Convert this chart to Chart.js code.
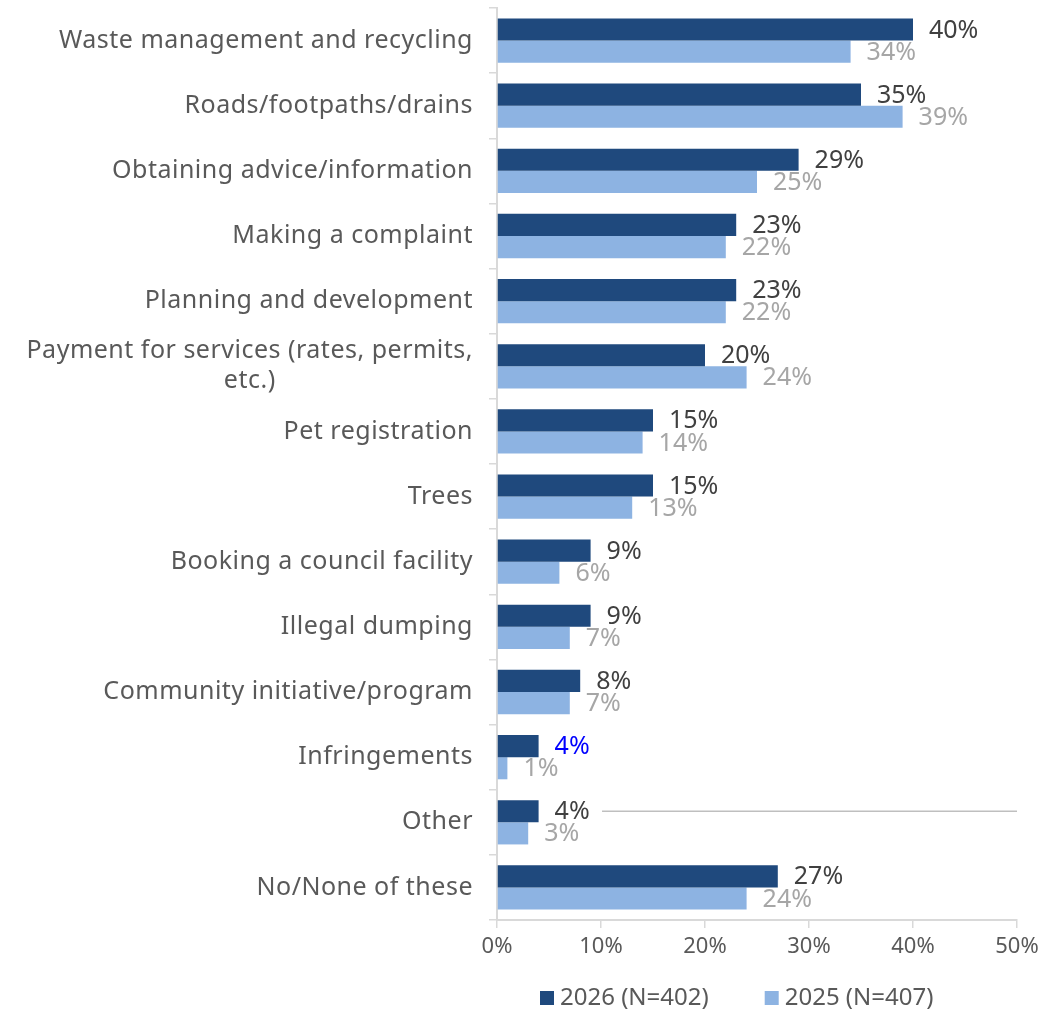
<!DOCTYPE html>
<html>
<head>
<meta charset="utf-8">
<script src="https://cdn.jsdelivr.net/npm/chart.js@4.4.1/dist/chart.umd.min.js"></script>
<style>
  html, body { margin: 0; padding: 0; background: #fff; }
  #wrap { width: 1045px; height: 1012px; }
</style>
</head>
<body>
<div id="wrap"><canvas id="barChart" width="1045" height="1012"></canvas></div>
<script>
const categories = [
    ['Waste management and recycling'],
    ['Roads/footpaths/drains'],
    ['Obtaining advice/information'],
    ['Making a complaint'],
    ['Planning and development'],
    ['Payment for services (rates, permits,', 'etc.)'],
    ['Pet registration'],
    ['Trees'],
    ['Booking a council facility'],
    ['Illegal dumping'],
    ['Community initiative/program'],
    ['Infringements'],
    ['Other'],
    ['No/None of these'],
];
const values2026 = [40, 35, 29, 23, 23, 20, 15, 15, 9, 9, 8, 4, 4, 27];
const values2025 = [34, 39, 25, 22, 22, 24, 14, 13, 6, 7, 7, 1, 3, 24];
const xTicks = [0, 10, 20, 30, 40, 50];

const FONT = '"Noto Sans", sans-serif';
const TEXT = '#595959';
const AXIS = '#d9d9d9';

// category names drawn by hand so wrapped lines can be centred under each other
const categoryLabels = {
    id: 'categoryLabels',
    afterDraw(chart) {
        const ctx = chart.ctx;
        const y = chart.scales.y;
        const right = y.right - 24;
        const lh = 30;
        ctx.save();
        ctx.font = '25px ' + FONT;
        ctx.letterSpacing = '0.5px';
        ctx.fillStyle = TEXT;
        ctx.textBaseline = 'middle';
        ctx.textAlign = 'center';
        categories.forEach((lines, i) => {
            const cy = y.getPixelForValue(i);
            const w = Math.max(...lines.map(l => ctx.measureText(l).width));
            const cx = right - w / 2;
            const y0 = cy - (lines.length - 1) * lh / 2;
            lines.forEach((l, k) => ctx.fillText(l, cx, y0 + k * lh));
        });
        ctx.restore();
    }
};

// percentage labels just past the end of each bar
const valueLabels = {
    id: 'valueLabels',
    afterDatasetsDraw(chart) {
        const ctx = chart.ctx;
        ctx.save();
        ctx.font = '25px ' + FONT;
        ctx.textAlign = 'left';
        ctx.textBaseline = 'middle';
        chart.data.datasets.forEach((ds, di) => {
            chart.getDatasetMeta(di).data.forEach((bar, i) => {
                let col = ds.labelColor;
                if (di === 0 && categories[i][0] === 'Infringements') col = '#0000ff';
                ctx.fillStyle = col;
                ctx.fillText(ds.data[i] + '%', bar.x + 16, bar.y + 1);
            });
        });
        ctx.restore();
    }
};

// leftover leader line beside the "Other" bar
const leaderLine = {
    id: 'leaderLine',
    afterDatasetsDraw(chart) {
        const i = categories.findIndex(c => c[0] === 'Other');
        const bar = chart.getDatasetMeta(0).data[i];
        const x = chart.scales.x;
        const ctx = chart.ctx;
        ctx.save();
        ctx.strokeStyle = '#bfbfbf';
        ctx.lineWidth = 1.5;
        ctx.beginPath();
        ctx.moveTo(x.getPixelForValue(10.1), bar.y);
        ctx.lineTo(x.getPixelForValue(50), bar.y);
        ctx.stroke();
        ctx.restore();
    }
};

// legend along the bottom: small square then series name
const bottomLegend = {
    id: 'bottomLegend',
    afterDraw(chart) {
        const ctx = chart.ctx;
        const area = chart.chartArea;
        let x = area.left + 43;
        const y = chart.height - 14;
        ctx.save();
        ctx.font = '24px ' + FONT;
        ctx.textBaseline = 'middle';
        ctx.textAlign = 'left';
        chart.data.datasets.forEach(ds => {
            ctx.fillStyle = ds.backgroundColor;
            ctx.fillRect(x, y - 7, 14, 14);
            ctx.fillStyle = TEXT;
            ctx.fillText(ds.label, x + 20, y);
            x += 20 + ctx.measureText(ds.label).width + 56;
        });
        ctx.restore();
    }
};

const ctx = document.getElementById('barChart');
const myChart = new Chart(ctx, {
    type: 'bar',
    data: {
        labels: categories.map(c => c.join(' ')),
        datasets: [
            {
                label: '2026 (N=402)',
                data: values2026,
                backgroundColor: '#1f497d',
                labelColor: '#404040',
            },
            {
                label: '2025 (N=407)',
                data: values2025,
                backgroundColor: '#8db3e2',
                labelColor: '#a6a6a6',
            },
        ],
    },
    options: {
        indexAxis: 'y',
        responsive: false,
        animation: false,
        layout: { padding: { top: 8, right: 28, bottom: 52, left: 0 } },
        datasets: {
            bar: { categoryPercentage: 0.68, barPercentage: 1.0 },
        },
        scales: {
            y: {
                ticks: { display: false },
                grid: { drawOnChartArea: false, tickLength: 8, color: AXIS, lineWidth: 1.5 },
                border: { color: AXIS, width: 2 },
                afterFit(scale) { scale.width = 497; },
            },
            x: {
                min: 0,
                max: 50,
                afterBuildTicks(scale) { scale.ticks = xTicks.map(v => ({ value: v })); },
                afterFit(scale) { scale.height = 40; },
                ticks: {
                    callback: v => v + '%',
                    color: TEXT,
                    font: { family: FONT, size: 22 },
                    padding: 6,
                },
                grid: { drawOnChartArea: false, tickLength: 8, color: AXIS, lineWidth: 1.5 },
                border: { color: AXIS, width: 2 },
            },
        },
        plugins: {
            legend: { display: false },
            tooltip: { enabled: false },
        },
    },
    plugins: [categoryLabels, valueLabels, leaderLine, bottomLegend],
});
</script>
</body>
</html>
